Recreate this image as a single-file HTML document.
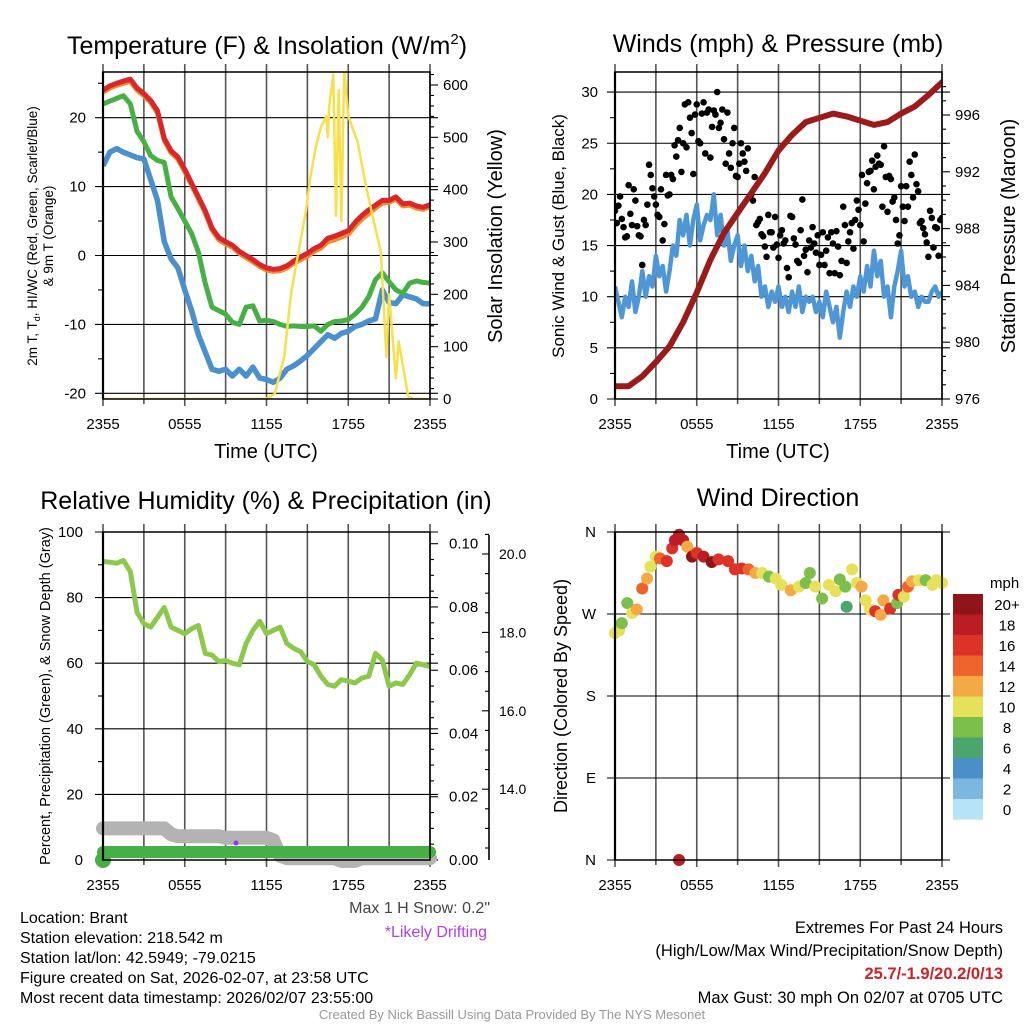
<!DOCTYPE html>
<html><head><meta charset="utf-8">
<style>
html,body{margin:0;padding:0;background:#fff;}
svg{display:block;font-family:"Liberation Sans",Arial,sans-serif;}
</style></head>
<body>
<svg id="root" width="1024" height="1024" viewBox="0 0 1024 1024" xmlns="http://www.w3.org/2000/svg">
<rect width="1024" height="1024" fill="#fff"/>
<g id="layer"></g>
<text x="267" y="54" font-size="25" text-anchor="middle">Temperature (F) &amp; Insolation (W/m<tspan font-size="15" dy="-10">2</tspan><tspan dy="10">)</tspan></text>
<text x="778" y="52" font-size="25" text-anchor="middle">Winds (mph) &amp; Pressure (mb)</text>
<text x="266" y="509" font-size="25" text-anchor="middle">Relative Humidity (%) &amp; Precipitation (in)</text>
<text x="778" y="506" font-size="25" text-anchor="middle">Wind Direction</text>
<text x="266" y="458" font-size="20" text-anchor="middle">Time (UTC)</text>
<text x="778" y="458" font-size="20" text-anchor="middle">Time (UTC)</text>
<text transform="translate(37,236) rotate(-90)" font-size="13.5" text-anchor="middle">2m T, T<tspan font-size="9" dy="3">d</tspan><tspan dy="-3">, HI/WC (Red, Green, Scarlet/Blue)</tspan></text>
<text transform="translate(53,236) rotate(-90)" font-size="13.5" text-anchor="middle">&amp; 9m T (Orange)</text>
<text transform="translate(502,236) rotate(-90)" font-size="20" text-anchor="middle">Solar Insolation (Yellow)</text>
<text transform="translate(564,236) rotate(-90)" font-size="17" text-anchor="middle">Sonic Wind &amp; Gust (Blue, Black)</text>
<text transform="translate(1015,236) rotate(-90)" font-size="20" text-anchor="middle">Station Pressure (Maroon)</text>
<text transform="translate(50,696) rotate(-90)" font-size="14.5" text-anchor="middle">Percent, Precipitation (Green), &amp; Snow Depth (Gray)</text>
<text transform="translate(567,696) rotate(-90)" font-size="18" text-anchor="middle">Direction (Colored By Speed)</text>
<g font-size="16">
<text x="20" y="923">Location: Brant</text>
<text x="20" y="943">Station elevation: 218.542 m</text>
<text x="20" y="963">Station lat/lon: 42.5949; -79.0215</text>
<text x="20" y="983">Figure created on Sat, 2026-02-07, at 23:58 UTC</text>
<text x="20" y="1003">Most recent data timestamp: 2026/02/07 23:55:00</text>
</g>
<text x="490" y="913" font-size="16" fill="#444" text-anchor="end">Max 1 H Snow: 0.2"</text>
<text x="487" y="937" font-size="16" fill="#b040f0" text-anchor="end">*Likely Drifting</text>
<g font-size="16.5" text-anchor="end">
<text x="1003" y="933">Extremes For Past 24 Hours</text>
<text x="1003" y="956">(High/Low/Max Wind/Precipitation/Snow Depth)</text>
<text x="1003" y="979" fill="#cc2229" font-weight="bold">25.7/-1.9/20.2/0/13</text>
<text x="1003" y="1003">Max Gust: 30 mph On 02/07 at 0705 UTC</text>
</g>
<text x="512" y="1019" font-size="13" fill="#999" text-anchor="middle">Created By Nick Bassill Using Data Provided By The NYS Mesonet</text>
</svg>
<script>
const halfHours = [0,0.5,1,1.5,2,2.5,3,3.5,4,4.5,5,5.5,6,6.5,7,7.5,8,8.5,9,9.5,10,10.5,11,11.5,12,12.5,13,13.5,14,14.5,15,15.5,16,16.5,17,17.5,18,18.5,19,19.5,20,20.5,21,21.5,22,22.5,23,23.5,24];
const timeLabels = ["2355","0555","1155","1755","2355"];
const timeLabelHours = [0,6,12,18,24];
const tempRed = [24,24.6,25,25.3,25.6,24.3,23.5,22.5,21,17,15.2,14.3,12.5,10.5,8.5,6.5,4,2.6,2,1.5,0.6,0,-0.6,-1.3,-1.8,-2,-1.9,-1.5,-0.8,-0.2,0.3,1,1.5,2.5,2.8,3.2,3.6,4.8,5.8,6.6,7.3,8,8,8.5,7.5,7.6,7.2,7,7.4];
const temp9mOrange = [23.7,24.3,24.7,25,25.3,24,23.2,22.2,20.7,16.7,14.9,14,12.2,10.2,8.2,6.2,3.7,2.3,1.7,1.2,0.3,-0.3,-0.9,-1.6,-2.1,-2.3,-2.2,-1.8,-1.1,-0.6,-0.1,0.6,1.1,2,2.3,2.7,3.1,4.3,5.3,6.1,6.9,7.6,7.7,8.2,7.2,7.3,6.9,6.7,7.1];
const dewGreen = [22,22.4,22.8,23.2,22,18,16.5,14.5,13.8,13.5,8.5,6.8,5,3.2,0.5,-4,-7.5,-8,-8.5,-9.7,-10,-7.5,-7.3,-9.5,-9.4,-9.6,-10,-10.3,-10.2,-10.3,-10.3,-10.2,-11,-10,-9.6,-9.5,-9.3,-8.5,-7.5,-6,-3.5,-2.5,-3.8,-5,-5.5,-4,-3.7,-3.9,-4];
const windChillBlue = [13,15,15.5,15,14.6,14.2,14,11,8,2,-0.5,-1.8,-5,-8,-11.5,-14,-16.5,-16.8,-16.5,-17.5,-16.5,-17.5,-16.2,-17.8,-18,-18.4,-17.8,-16.5,-16,-15.3,-14.5,-13.5,-12.5,-11.5,-12,-11.3,-11,-10.3,-10,-9.5,-9.2,-5,-6.8,-7,-5.7,-6,-6.3,-7,-7];
const solarTimes = [0,11.9,12.6,13.3,13.8,14.2,14.9,15.2,15.6,16.0,16.4,16.5,16.6,16.9,17.1,17.3,17.5,17.7,18.0,18.7,19.2,19.7,20.4,20.8,21.0,21.5,21.7,22.4,22.8,24];
const solarValues = [0,0,10,80,200,260,360,420,480,520,540,500,560,620,350,590,340,630,540,490,420,360,280,80,200,40,110,5,0,0];
const windSpeed = [11,9.5,8,10,9,11.5,8.5,10,12.5,10,12,11,14,12,13,10.5,12.5,15,14,17.5,16,18,15,17.5,19,15.5,17,18,17.5,20,16,18,15,16.5,13.5,15,16,13,15,12.5,14,11.5,13,10,11,9,10.5,9.5,11,9,10,8.5,10.5,9,11,8.5,10,9.5,10,8.5,9.5,8,10.5,9,7.5,9,6,8.5,10.5,9,11,10,12,10.5,13,11,14.5,12,13.5,10,11,8,11,12.5,14.5,11,12,10,10.5,9,10,9.5,9.5,10.5,11,10,10.5];
const gustValues = [18.4,18.9,17.6,15.8,20.9,17,19.4,16,13.1,17,22.9,20.6,19,17.8,15.5,21.9,20,21.5,23.7,26.5,25,24.6,27.5,22,28.8,25,29,28,23.6,28.2,30,27,25.4,28,22.6,26.5,21.7,25,23.2,24.5,20,21.7,17.3,16.1,14.9,18,16.3,17.8,13.8,16.5,15.5,11.9,17.8,15.1,13.3,19.5,14.6,15.5,16.8,14.3,13.1,16.3,14.5,12.3,15.2,16.4,12.1,18.8,13.3,16.3,14.7,19.4,17,15.4,21.1,22.3,20.5,23.8,22.9,24.7,18.3,21.5,19.7,15.2,20.8,17.4,18.8,21.9,23.9,20.3,17.4,16.1,13.9,17.7,16.8,14,17.7];
const gustValuesMid = [17.2,19.8,16.8,15.9,18.1,20.5,16.9,15.9,17.5,19,21.9,19.8,18,20.5,17.1,19.9,21.9,24.8,25.3,22.2,28.8,29,26,27.8,25.2,27.9,24,28.3,26.6,27.8,26.5,28.3,23,24,25,21.8,23,24,22.3,19.7,19.4,17,17.6,15.9,13.9,16.3,14.8,15.1,16,15.2,12.8,17.9,15.7,13.5,16.5,14,12.4,14.8,15.2,16,14.1,13.1,15.8,16.3,12.3,14.9,13.5,17,15.4,17.2,17.5,18.5,21.9,19.1,22.2,23.3,22.7,23,18.8,21.7,21.8,19.3,17.5,16,18.8,20.8,23.2,19.7,21,17.2,16.7,15.3,18.4,14.8,16.7,17.5];
const pressureHours = [0,1,2,3,4,5,6,7,8,9,10,11,12,13,14,15,16,17,18,19,20,21,22,23,24];
const pressureValues = [976.9,976.9,977.6,978.6,979.7,981.4,983.5,985.8,987.7,989.1,990.5,991.9,993.5,994.6,995.5,995.8,996.1,995.9,995.6,995.3,995.5,996.1,996.6,997.4,998.3];
const rhValues = [91,90.8,90.5,91.3,88,75.5,72,71,74,77,71,70,69,70.5,71.5,63,62.5,60.5,60.8,60,59.5,66,70,72.8,69,70,71,66,64.5,63.5,60.5,59.5,56,53.5,53,55,54.5,54,55.5,56,63,61,53,54,53.5,56.5,60,59.5,59];
const snowDepth = [13,13,13,13,13,13,13,13,13,13,12.85,12.8,12.8,12.8,12.8,12.8,12.8,12.8,12.76,12.76,12.76,12.76,12.76,12.76,12.76,12.7,12.3,12.24,12.24,12.24,12.24,12.24,12.24,12.24,12.24,12.17,12.17,12.17,12.24,12.24,12.24,12.24,12.24,12.24,12.24,12.24,12.24,12.24,12.24];
const precipValues = [0,0,0,0,0,0,0,0,0,0,0,0,0,0,0,0,0,0,0,0,0,0,0,0,0,0,0,0,0,0,0,0,0,0,0,0,0,0,0,0,0,0,0,0,0,0,0,0,0];
const wdTimes = [0,0.3,0.5,0.9,1.25,1.6,2,2.35,2.6,3,3.3,3.8,4.2,4.4,4.7,5,5.3,5.65,6,6.5,7.1,7.6,8.3,8.8,9.3,9.8,10.3,10.8,11.3,11.8,12.2,12.9,13.5,14,14.3,14.7,15.2,15.7,16.2,16.5,16.9,17,17.4,17.75,18.1,18.4,18.7,19.1,19.5,19.7,20.2,20.7,20.8,21.2,21.5,21.8,22.3,22.8,23.3,23.6,24,4.7];
const wdDirs = [249,252,260,282,271,275,298,309,322,333,331,328,342,351,357,351,344,333,337,333,327,330,328,319,320,319,315,315,311,309,302,296,300,304,315,300,287,302,295,308,300,278,319,304,300,285,275,273,269,285,276,282,291,289,300,306,307,307,302,307,304,0];
const wdSpeeds = [10,10,8,9,10,12,14,12,10,10,14,16,16,18,19,18,12,20,17,18,20,16,16,16,17,14,12,10,8,10,10,12,10,8,8,10,8,10,10,8,8,6,10,10,12,10,10,16,12,12,16,8,16,10,14,12,10,8,10,10,10,18];
const speedColors = ["#b6e3f7","#7ab8e0","#4a8fc7","#4aa56e","#7cbf4a","#e6e05a","#f5a945","#ef632c","#dc3227","#bb1d24","#8f1519"];
const speedLabels = ["0","2","4","6","8","10","12","14","16","18","20+"];

const NS="http://www.w3.org/2000/svg";
const layer=document.getElementById('layer');
function mk(tag,attrs,parent){const e=document.createElementNS(NS,tag);for(const k in attrs)e.setAttribute(k,attrs[k]);(parent||layer).appendChild(e);return e;}
const PW=327;
function xL(h){return 103+h/24*PW;}
function xR(h){return 615+h/24*PW;}
function pathD(xs,ys,xf,yf){let d='';for(let i=0;i<ys.length;i++){d+=(i?'L':'M')+xf(xs[i]).toFixed(1)+','+yf(ys[i]).toFixed(1);}return d;}
const quarterHours=windSpeed.map((v,i)=>i*0.25);

function frame(x0,y0,y1,clipId){const c=mk('clipPath',{id:clipId});mk('rect',{x:x0,y:y0,width:PW,height:y1-y0},c);}
function vgrid(xf,y0,y1,g){
  for(let h=0;h<=24;h+=3){
    const l=mk('line',{x1:xf(h),x2:xf(h),y1:y0-8,y2:y1+(h%6==0?7:5),stroke:'#555','stroke-width':1.6},g);
    
    
  }
  for(let i=0;i<timeLabels.length;i++){
    const t=mk('text',{x:xf(timeLabelHours[i]),y:y1+30,'font-size':15,'text-anchor':'middle'},g);
    t.textContent=timeLabels[i];
    
    
  }
}
function hline(x0,y,g,ext){mk('line',{x1:x0-(ext||8),x2:x0+PW+(ext||8),y1:y,y2:y,stroke:'#000','stroke-width':1.1},g);}
function tick(x,y,len,g,w){mk('line',{x1:x,x2:x+len,y1:y,y2:y,stroke:'#000','stroke-width':w||1.1},g);}
function label(x,y,txt,anchor,g,size){const t=mk('text',{x:x,y:y+5,'font-size':size||15,'text-anchor':anchor},g);t.textContent=txt;return t;}
function box(x0,y0,y1,g){mk('rect',{x:x0,y:y0,width:PW,height:y1-y0,fill:'none',stroke:'#000','stroke-width':1.5},g);mk('line',{x1:x0,x2:x0,y1:y0,y2:y1,stroke:'#000','stroke-width':2.2},g);}

(function(){
  const g=mk('g',{});
  
  
  const y0=72,y1=399;
  const yT=v=>255.5-v*6.89, yS=v=>399-v*314/600;
  frame(103,y0,y1,'c1');
  vgrid(xL,y0,y1,g);
  [20,10,0,-10,-20].forEach(v=>{hline(103,yT(v),g);label(86,yT(v),String(v),'end',g);});
  [25,15,5,-5,-15].forEach(v=>tick(98,yT(v),5,g));
  for(let v=0;v<=620;v+=20){tick(430,yS(v),v%100==0?8:4,g);}
  [0,100,200,300,400,500,600].forEach(v=>label(443,yS(v),String(v),'start',g));
  const d=mk('g',{'clip-path':'url(#c1)'},g);
  const s1=mk('path',{d:pathD(halfHours,windChillBlue,xL,yT),fill:'none',stroke:'#4a90cd','stroke-width':5.5,'stroke-linejoin':'round'},d);
  
  const s2=mk('path',{d:pathD(halfHours,dewGreen,xL,yT),fill:'none',stroke:'#47b045','stroke-width':5,'stroke-linejoin':'round'},d);
  
  const s3=mk('path',{d:pathD(halfHours,temp9mOrange,xL,yT),fill:'none',stroke:'#f08a30','stroke-width':5,'stroke-linejoin':'round'},d);
  
  const s4=mk('path',{d:pathD(halfHours,tempRed,xL,yT),fill:'none',stroke:'#d8262a','stroke-width':5,'stroke-linejoin':'round'},d);
  
  const s5=mk('path',{d:pathD(solarTimes,solarValues,xL,yS),fill:'none',stroke:'#f7e04a','stroke-width':2.5,'stroke-linejoin':'round'},d);
  
  box(103,y0,y1,g);
})();

(function(){
  const g=mk('g',{});
  
  
  const y0=72,y1=399;
  const yW=v=>399-v*10.23, yP=v=>399-(v-976)*14.2;
  frame(615,y0,y1,'c2');
  vgrid(xR,y0,y1,g);
  [0,5,10,15,20,25,30].forEach(v=>{hline(615,yW(v),g);label(598,yW(v),String(v),'end',g);});
  [2.5,7.5,12.5,17.5,22.5,27.5].forEach(v=>tick(610,yW(v),5,g));
  for(let v=976;v<=998;v+=1){tick(942,yP(v),v%4==0?8:4,g);}
  [976,980,984,988,992,996].forEach(v=>label(955,yP(v),String(v),'start',g));
  const d=mk('g',{'clip-path':'url(#c2)'},g);
  const w=mk('path',{d:pathD(quarterHours,windSpeed,xR,yW),fill:'none',stroke:'#4f97d4','stroke-width':4.5,'stroke-linejoin':'round'},d);
  
  for(let i=0;i<gustValues.length;i++){
    const c=mk('circle',{cx:xR(i*0.25),cy:yW(gustValues[i]),r:3.3,fill:'#000'},d);
    
    
  }
  for(let i=0;i<gustValuesMid.length;i++){
    const c=mk('circle',{cx:xR(i*0.25+0.125),cy:yW(gustValuesMid[i]),r:3.3,fill:'#000'},d);
    
    
  }
  const p=mk('path',{d:pathD(pressureHours,pressureValues,xR,yP),fill:'none',stroke:'#9b1b1b','stroke-width':6,'stroke-linecap':'round','stroke-linejoin':'round'},d);
  
  box(615,y0,y1,g);
})();

(function(){
  const g=mk('g',{});
  
  
  const y0=532,y1=860;
  const yH=v=>860-v*3.28, yPr=v=>860-v*3163, ySn=v=>554+(20-v)*39.2;
  frame(103,y0,y1,'c3');
  vgrid(xL,y0,y1,g);
  [0,20,40,60,80,100].forEach(v=>{hline(103,yH(v),g);label(83,yH(v),String(v),'end',g);});
  [10,30,50,70,90].forEach(v=>tick(98,yH(v),5,g));
  for(let v=0;v<=0.1001;v+=0.005){tick(430,yPr(v),Math.round(v*1000)%20==0?8:4,g);}
  [0,0.02,0.04,0.06,0.08,0.10].forEach(v=>label(449,yPr(v),v.toFixed(2),'start',g));
  mk('line',{x1:489,x2:489,y1:535,y2:860,stroke:'#000','stroke-width':1.6},g);
  for(let v=12.5;v<=20.6;v+=0.5){tick(489,ySn(v),Math.round(v*2)%4==0?-7:-4,g);}
  [20,18,16,14].forEach(v=>label(499,ySn(v),v.toFixed(1),'start',g,14));
  const sn=mk('path',{d:pathD(halfHours,snowDepth,xL,ySn),fill:'none',stroke:'#b3b3b3','stroke-width':14,'stroke-linecap':'round','stroke-linejoin':'round'},g);
  
  const pr=mk('path',{d:pathD(halfHours,precipValues,xL,v=>yPr(v)-8),fill:'none',stroke:'#46b047','stroke-width':12,'stroke-linecap':'round'},g);
  
  mk('circle',{cx:xL(0),cy:860,r:8,fill:'#46b047'},g);
  const pd=mk('circle',{cx:236,cy:843,r:2.5,fill:'#9b30f0'},g);
  
  const d=mk('g',{'clip-path':'url(#c3)'},g);
  const rh=mk('path',{d:pathD(halfHours,rhValues,xL,yH),fill:'none',stroke:'#8cc84b','stroke-width':5,'stroke-linejoin':'round'},d);
  
  box(103,y0,y1,g);
})();

(function(){
  const g=mk('g',{});
  
  
  const y0=532,y1=860;
  const yD=v=>860-v*328/360;
  vgrid(xR,y0,y1,g);
  [[0,'N'],[90,'E'],[180,'S'],[270,'W'],[360,'N']].forEach(a=>{hline(615,yD(a[0]),g);label(596,yD(a[0]),a[1],'end',g);});
  for(let i=0;i<wdTimes.length;i++){
    const c=mk('circle',{cx:xR(wdTimes[i]),cy:yD(wdDirs[i]),r:6,fill:speedColors[Math.min(10,Math.floor(wdSpeeds[i]/2))]},g);
    
    
  }
  box(615,y0,y1,g);
  const lg=mk('g',{},g);
  
  
  const t=mk('text',{x:990,y:588,'font-size':15},lg);t.textContent='mph';
  for(let i=0;i<speedColors.length;i++){
    const k=10-i;
    const r=mk('rect',{x:953,y:594+i*20.5,width:30,height:20.6,fill:speedColors[k]},lg);
    
    
    const tl=mk('text',{x:1007,y:594+i*20.5+16,'font-size':15,'text-anchor':'middle'},lg);
    tl.textContent=speedLabels[k];
    
    
  }
})();
</script>
</body></html>
